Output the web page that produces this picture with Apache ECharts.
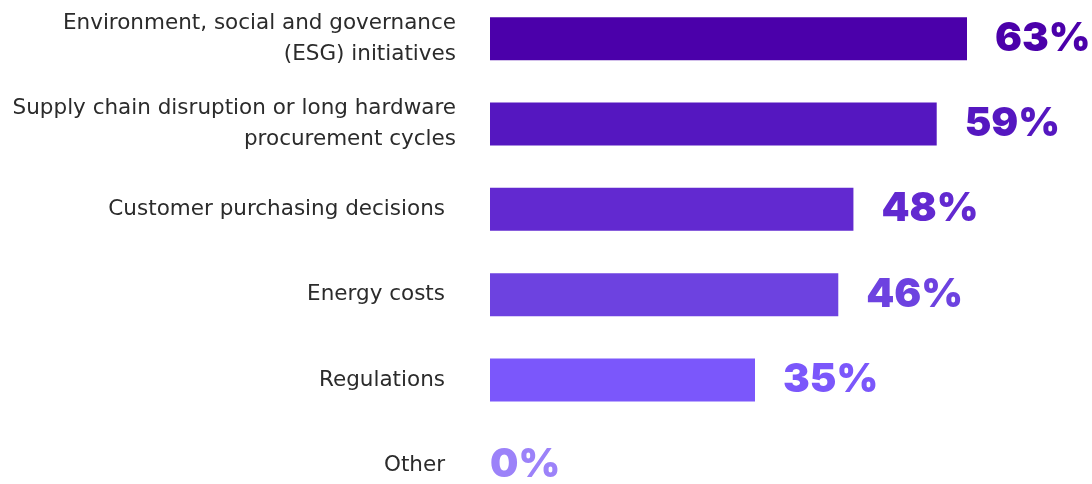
<!DOCTYPE html>
<html>
<head>
<meta charset="utf-8">
<script src="https://cdn.jsdelivr.net/npm/echarts@6/dist/echarts.min.js"></script>
<style>html,body{margin:0;padding:0;background:#fff}#c{width:1092px;height:484px}</style>
</head>
<body>
<div id="c"></div>
<script>
const categories = [
  "Environment, social and governance\n(ESG) initiatives",
  "Supply chain disruption or long hardware\nprocurement cycles",
  "Customer purchasing decisions",
  "Energy costs",
  "Regulations",
  "Other"
];
const values = [63, 59, 48, 46, 35, 0];
const barColors = ["#4B00AA", "#5517C0", "#6229D0", "#6D42E0", "#7B57FB", "#9C82F9"];

const chart = echarts.init(document.getElementById('c'));
const data = values.map((v, i) => ({
  value: v,
  itemStyle: { color: barColors[i] },
  label: { color: barColors[i], distance: v === 0 ? 0 : 28 }
}));
chart.setOption({
  animation: false,
  grid: { left: 490, top: -4, width: 530, height: 512, outerBoundsMode: 'none', containLabel: false },
  xAxis: { type: 'value', min: 0, max: 70, show: false },
  yAxis: {
    type: 'category', data: categories, inverse: true,
    axisLine: { show: false }, axisTick: { show: false },
    axisLabel: {
      margin: 34, color: '#2b2b2b', fontFamily: 'DejaVu Sans', fontSize: 21.5, lineHeight: 31, align: 'right',
      formatter: v => v.indexOf('\n') >= 0 ? v : '{s|' + v + '}',
      rich: { s: { fontFamily: 'DejaVu Sans', fontSize: 21.5, color: '#2b2b2b', padding: [0, 11, 0, 0] } }
    }
  },
  series: [{
    type: 'bar', data: data, barWidth: 43,
    label: {
      show: true, position: 'right', formatter: '{c}%',
      fontFamily: 'Inter', fontWeight: 900, fontSize: 40
    }
  }]
});
</script>
</body>
</html>
